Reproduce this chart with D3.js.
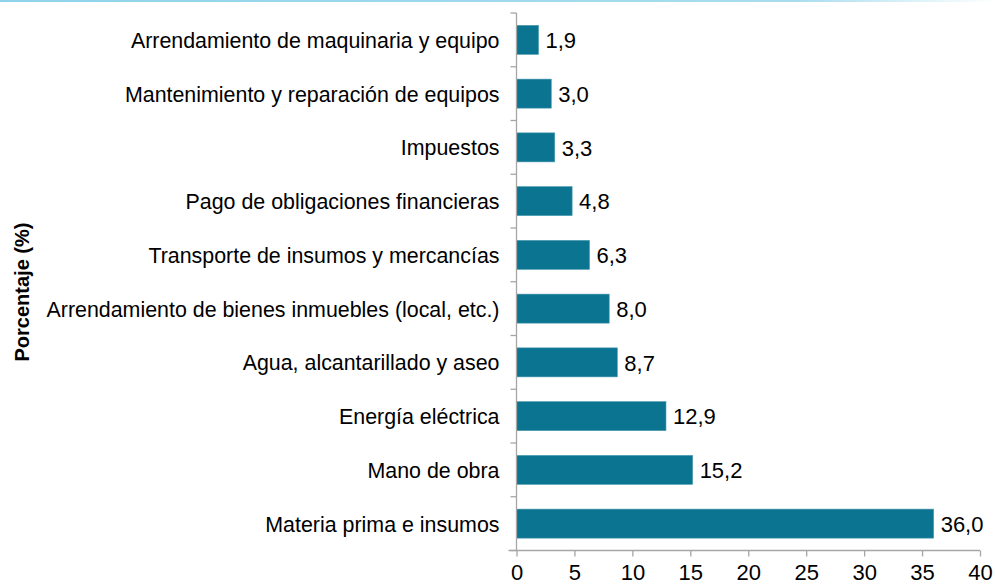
<!DOCTYPE html>
<html>
<head>
<meta charset="utf-8">
<script src="https://cdn.jsdelivr.net/npm/d3@7"></script>
<style>
  body { margin: 0; background: #fff; }
  svg text { font-family: "Liberation Sans", Arial, sans-serif; fill: #000; }
</style>
</head>
<body>
<svg id="chart" width="995" height="585"></svg>
<script>
// categories top to bottom
var categories = [
  "Arrendamiento de maquinaria y equipo",
  "Mantenimiento y reparación de equipos",
  "Impuestos",
  "Pago de obligaciones financieras",
  "Transporte de insumos y mercancías",
  "Arrendamiento de bienes inmuebles (local, etc.)",
  "Agua, alcantarillado y aseo",
  "Energía eléctrica",
  "Mano de obra",
  "Materia prima e insumos"
]
var values = [1.9, 3.0, 3.3, 4.8, 6.3, 8.0, 8.7, 12.9, 15.2, 36.0]
var xTicks = [0, 5, 10, 15, 20, 25, 30, 35, 40]
var axisTitle = "Porcentaje (%)"

var svg = d3.select("#chart"),
  margin = {top: 13, right: 15, bottom: 35, left: 516.5},
  width = +svg.attr("width") - margin.left - margin.right,
  height = +svg.attr("height") - margin.top - margin.bottom;

// thin light blue rule at the top
var defs = svg.append("defs")
var grad = defs.append("linearGradient").attr("id", "topline")
grad.append("stop").attr("offset", "0%").attr("stop-color", "#8fd3ea")
grad.append("stop").attr("offset", "80%").attr("stop-color", "#a8ddef")
grad.append("stop").attr("offset", "100%").attr("stop-color", "#ffffff")
svg.append("rect").attr("x", 0).attr("y", 0).attr("width", 995).attr("height", 2)
  .attr("fill", "url(#topline)")

var x = d3.scaleLinear().domain([0, 40]).range([0, 463.5]),
  y = d3.scaleBand().domain(categories).range([0, 537.5]).paddingInner(0.46).paddingOuter(0.23);

var g = svg.append("g").attr("transform", "translate(" + margin.left + "," + margin.top + ")")

var data = categories.map(function(c, i){ return {field: c, value: values[i]} })

g.selectAll(".bar")
  .data(data)
  .enter().append("rect")
  .attr("class", "bar")
  .attr("x", 0)
  .attr("y", d => y(d.field))
  .attr("width", d => x(d.value))
  .attr("height", y.bandwidth())
  .attr("fill", "#0a7491")
  .attr("stroke", "#4a9ab0")
  .attr("stroke-width", 0.6)

g.selectAll(".val")
  .data(data)
  .enter().append("text")
  .attr("class", "val")
  .attr("x", d => x(d.value) + 7)
  .attr("y", d => y(d.field) + y.bandwidth() / 2)
  .attr("dy", "0.37em")
  .attr("font-size", 22)
  .text(d => d3.format(".1f")(d.value).replace(".", ","))

// y axis (category labels)
var band = 537.5 / categories.length
var yAxis = g.append("g")
yAxis.append("line").attr("x1", 0).attr("x2", 0).attr("y1", 0).attr("y2", 537.5)
  .attr("stroke", "#a6a6a6").attr("stroke-width", 1.3)
yAxis.selectAll(".ytick")
  .data(d3.range(categories.length + 1))
  .enter().append("line")
  .attr("x1", -6).attr("x2", 0)
  .attr("y1", d => d * band).attr("y2", d => d * band)
  .attr("stroke", "#a6a6a6").attr("stroke-width", 1.3)
yAxis.selectAll(".ylab")
  .data(categories)
  .enter().append("text")
  .attr("x", -17)
  .attr("y", d => y(d) + y.bandwidth() / 2)
  .attr("dy", "0.37em")
  .attr("text-anchor", "end")
  .attr("font-size", 21.4)
  .text(d => d)

// x axis
var xAxis = g.append("g").attr("transform", "translate(0," + 537.5 + ")")
  .call(d3.axisBottom(x).tickValues(xTicks).tickSize(6).tickPadding(8).tickFormat(d3.format("d")))
xAxis.select(".domain").attr("stroke", "#a6a6a6").attr("stroke-width", 1.3)
  .attr("d", "M-8,0H" + x(40))
xAxis.selectAll(".tick line").attr("stroke", "#a6a6a6").attr("stroke-width", 1.3)
xAxis.selectAll(".tick text").attr("font-size", 22).attr("fill", "#000")
  .attr("font-family", "Liberation Sans, Arial, sans-serif")

svg.append("text")
  .attr("transform", "translate(29,292) rotate(-90)")
  .attr("text-anchor", "middle")
  .attr("font-size", 20)
  .attr("font-weight", "bold")
  .text(axisTitle)
</script>
</body>
</html>
